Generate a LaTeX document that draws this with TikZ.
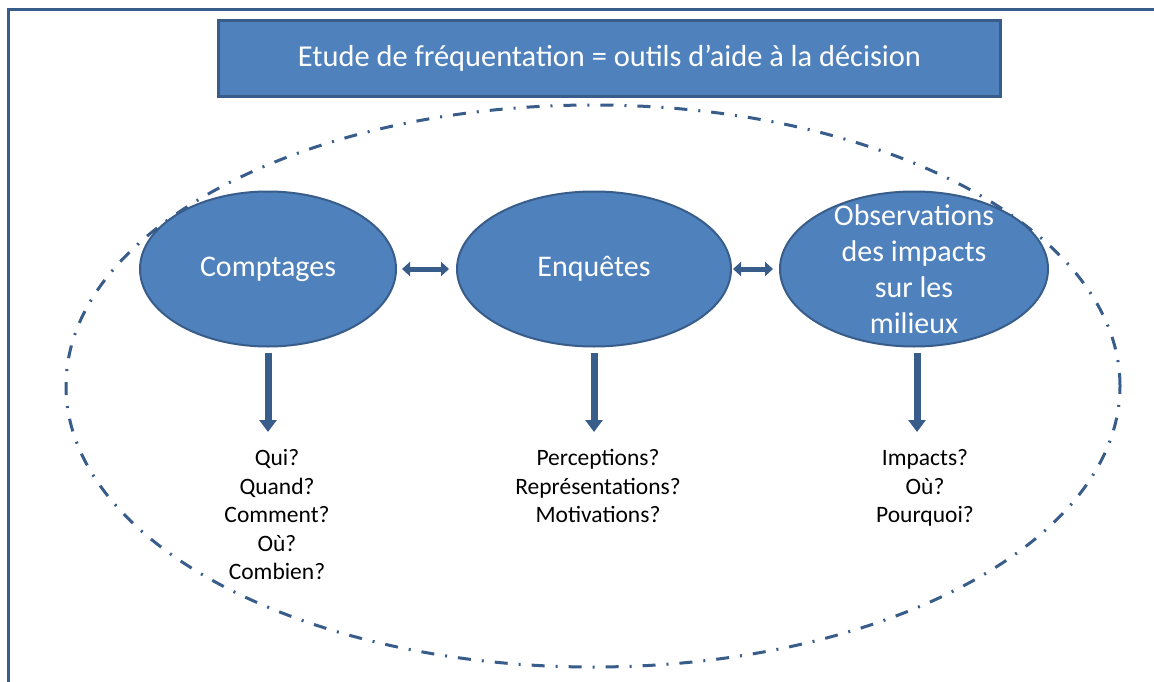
\documentclass[tikz,border=0pt]{standalone}
\usepackage{fontspec}
\setmainfont{Carlito}
\usetikzlibrary{arrows.meta,shapes.geometric}
\definecolor{boxblue}{HTML}{4F81BD}
\definecolor{lineblue}{HTML}{385D8A}
\tikzset{
  bubble/.style={ellipse,fill=boxblue,draw=lineblue,line width=2pt,minimum width=256pt,minimum height=155pt,inner sep=0pt,text=white,align=center,font=\fontsize{30}{36}\selectfont},
  questions/.style={align=center,anchor=north,font=\fontsize{23.5}{28.5}\selectfont},
  downarrow/.style={draw=lineblue,line width=7pt,-{Triangle[width=17pt,length=12pt]}},
  bothways/.style={draw=lineblue,line width=5pt,{Triangle[width=14pt,length=8pt]}-{Triangle[width=14pt,length=8pt]}}
}
\begin{document}
\begin{tikzpicture}[x=1pt,y=-1pt]
      \useasboundingbox (0,0) rectangle (1154,682);
      \fill[white] (0,0) rectangle (1154,682); % background
      \draw[lineblue,line width=3pt] (8,700) -- (8,10) -- (1170,10); % outer frame
      \draw[lineblue,line width=3pt,dash pattern=on 13pt off 11pt on 2pt off 11pt] (593,386) ellipse [x radius=527pt,y radius=281pt]; % dash-dot ring
      \node[fill=boxblue,draw=lineblue,line width=2.5pt,minimum width=782pt,minimum height=76pt,text=white,font=\fontsize{30.4}{36}\selectfont] (title) at (609.5,58.5) {Etude de fréquentation = outils d’aide à la décision}; % title box
      \node[bubble] (compt) at (268,269) {Comptages};
      \node[bubble,minimum width=274pt] (enq) at (594,269) {Enquêtes};
      \node[bubble,minimum width=268pt,inner ysep=-30pt] (obs) at (914,269) {Observations\\des impacts\\sur les\\milieux};
      \draw[bothways,shorten <=5pt,shorten >=7pt] (compt.east) -- (enq.west); % double arrow
      \draw[bothways,shorten <=1pt,shorten >=6pt] (enq.east) -- (obs.west); % double arrow
      \node[questions] (qui) at (277,446) {Qui?\\Quand?\\Comment?\\Où?\\Combien?};
      \node[questions] (perc) at (598,446) {Perceptions?\\Représentations?\\Motivations?};
      \node[questions] (imp) at (925,446) {Impacts?\\Où?\\Pourquoi?};
      \draw[downarrow,shorten <=5pt,shorten >=14pt] (compt.south) -- (compt.south |- qui.north);
      \draw[downarrow,shorten <=5pt,shorten >=14pt] (enq.south) -- (enq.south |- perc.north);
      \draw[downarrow,shorten <=5pt,shorten >=14pt] ([xshift=3pt]obs.south) -- ([xshift=3pt]obs.south |- imp.north);
\end{tikzpicture}
\end{document}
